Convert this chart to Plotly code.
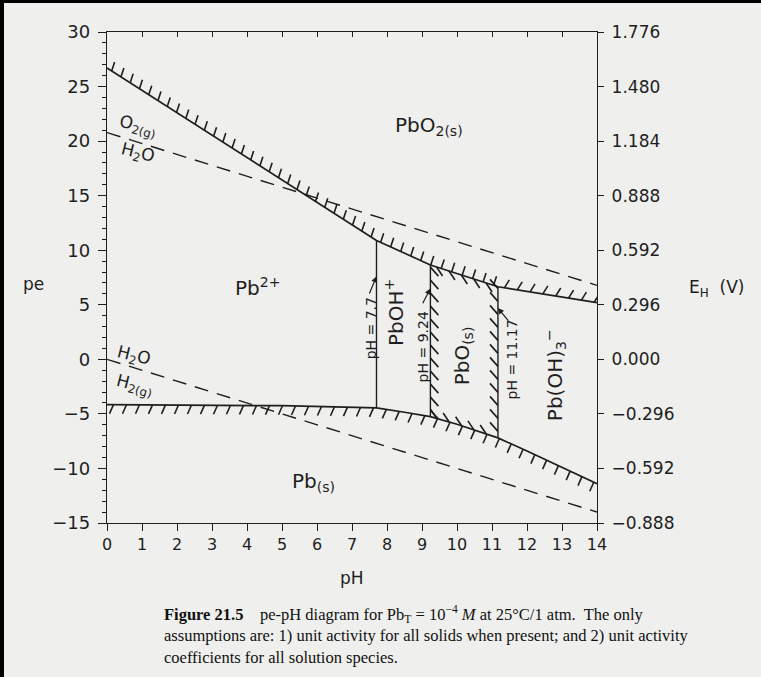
import numpy as np
import plotly.graph_objects as go

# ---------------- data ----------------
ph_upper = [0, 7.7, 9.24, 11.17, 14]
pe_upper = [26.7, 10.9, 8.65, 6.65, 5.2]

ph_lower = [0, 3, 5, 6.5, 7.7, 8.5, 9.24, 10, 11.17, 12, 13, 14]
pe_lower = [-4.15, -4.2, -4.25, -4.35, -4.45, -4.85, -5.25, -5.95, -7.2, -8.4, -9.9, -11.4]

ph_water = [0, 14]
pe_o2_h2o = [20.78, 6.78]
pe_h2o_h2 = [0.0, -14.0]

ph_bounds = [7.7, 9.24, 11.17]
bound_labels = ["pH = 7.7", "pH = 9.24", "pH = 11.17"]

x_ticks = list(range(0, 15))
pe_ticks = [30, 25, 20, 15, 10, 5, 0, -5, -10, -15]
eh_labels = ["1.776", "1.480", "1.184", "0.888", "0.592", "0.296",
             "0.000", "\u22120.296", "\u22120.592", "\u22120.888"]

X_RANGE = [0, 14]
Y_RANGE = [-15, 30]

# ---------------- geometry helpers ----------------
W, H = 761, 677
ML, MR, MT, MB = 107, 164, 32, 154
PW, PH = W - ML - MR, H - MT - MB
PX_X = PW / (X_RANGE[1] - X_RANGE[0])
PX_Y = PH / (Y_RANGE[1] - Y_RANGE[0])

INK = "#1e1e1e"
BG = "#efefed"


def px2paper_x(px):
    return (px - ML) / PW


def px2paper_y(py):
    return (MT + PH - py) / PH


def upper(x):
    return np.interp(x, ph_upper, pe_upper)


def lower(x):
    return np.interp(x, ph_lower, pe_lower)


def hatch(xd, yd, dxp, dyp, spacing):
    """hatch strokes along a dense data polyline; offsets in screen pixels"""
    xd = np.asarray(xd, float)
    yd = np.asarray(yd, float)
    seg = np.hypot(np.diff(xd) * PX_X, np.diff(yd) * PX_Y)
    cum = np.concatenate([[0], np.cumsum(seg)])
    pos = np.arange(spacing * 0.5, cum[-1], spacing)
    hx, hy = [], []
    for s in pos:
        x = np.interp(s, cum, xd)
        y = np.interp(s, cum, yd)
        hx += [x, x + dxp / PX_X, None]
        hy += [y, y - dyp / PX_Y, None]
    return hx, hy


def along(f, a, b):
    xx = np.linspace(a, b, 300)
    return xx, f(xx)


def vertical(xv):
    yy = np.linspace(lower(xv), upper(xv), 300)
    return np.full_like(yy, xv), yy


hatch_sets = [
    hatch(*along(upper, 0, ph_bounds[2]), 3, -9, 11),
    hatch(*along(upper, ph_bounds[2], 14), 5, -8, 13),
    hatch(*along(lower, 0, 14), -4, 9, 13),
    hatch(*vertical(ph_bounds[1]), 8, 9, 13),
    hatch(*vertical(ph_bounds[2]), -8, -9, 13),
    hatch(*along(upper, ph_bounds[1], ph_bounds[2]), 6, 9, 13),
    hatch(*along(lower, ph_bounds[1], ph_bounds[2]), -6, -9, 13),
]

fig = go.Figure()

# invisible traces to anchor the secondary (top / right) axes
fig.add_trace(go.Scatter(x=X_RANGE, y=Y_RANGE, xaxis="x2", yaxis="y",
                         mode="lines", line=dict(color="rgba(0,0,0,0)"),
                         hoverinfo="skip", showlegend=False))
fig.add_trace(go.Scatter(x=X_RANGE, y=Y_RANGE, xaxis="x", yaxis="y2",
                         mode="lines", line=dict(color="rgba(0,0,0,0)"),
                         hoverinfo="skip", showlegend=False))

# water stability lines (dashed)
for pe_vals in (pe_o2_h2o, pe_h2o_h2):
    fig.add_trace(go.Scatter(x=ph_water, y=pe_vals, mode="lines",
                             line=dict(color=INK, width=1.4, dash="14px,9px"),
                             hoverinfo="skip", showlegend=False))

# hatching
for hx, hy in hatch_sets:
    fig.add_trace(go.Scatter(x=hx, y=hy, mode="lines",
                             line=dict(color=INK, width=1.6),
                             hoverinfo="skip", showlegend=False))

# boundaries
fig.add_trace(go.Scatter(x=ph_upper, y=pe_upper, mode="lines",
                         line=dict(color=INK, width=1.7),
                         hoverinfo="skip", showlegend=False))
fig.add_trace(go.Scatter(x=ph_lower, y=pe_lower, mode="lines",
                         line=dict(color=INK, width=1.7),
                         hoverinfo="skip", showlegend=False))
for xb in ph_bounds:
    fig.add_trace(go.Scatter(x=[xb, xb], y=[float(lower(xb)), float(upper(xb))],
                             mode="lines", line=dict(color=INK, width=1.4),
                             hoverinfo="skip", showlegend=False))

FONT = "DejaVu Sans"

# species / region labels
species = [
    ("O<sub>2(g)</sub>", 0.88, 21.3, 14, 17),
    ("H<sub>2</sub>O", 0.88, 18.9, 14, 17),
    ("H<sub>2</sub>O", 0.78, 0.3, 14, 17),
    ("H<sub>2(g)</sub>", 0.78, -2.4, 14, 17),
    ("Pb<sup>2+</sup>", 4.3, 6.6, 0, 20),
    ("PbO<sub>2(s)</sub>", 9.2, 21.4, 0, 20),
    ("PbOH<sup>+</sup>", 8.22, 4.3, -90, 20),
    ("PbO<sub>(s)</sub>", 10.18, 0.3, -90, 20),
    ("Pb(OH)<sub>3</sub><sup>\u2212</sup>", 12.8, -1.45, -90, 20),
    ("Pb<sub>(s)</sub>", 5.9, -11.2, 0, 20),
]
for txt, x, y, ang, size in species:
    fig.add_annotation(x=x, y=y, xref="x", yref="y", text=txt, showarrow=False,
                       textangle=ang, font=dict(family=FONT, size=size, color=INK))

# boundary pH labels (rotated) with arrows
lab_pos = [(7.53, 2.8), (9.03, 1.1), (11.56, -0.05)]
arrow_heads = [(7.7, 7.6), (9.24, 6.5), (11.17, 4.7)]
arrow_tails = [(7.48, 5.9), (9.0, 5.0), (11.5, 3.4)]
for txt, (lx, ly), (hx_, hy_), (tx, ty) in zip(bound_labels, lab_pos, arrow_heads, arrow_tails):
    fig.add_annotation(x=lx, y=ly, xref="x", yref="y", text=txt, showarrow=False,
                       textangle=-90, font=dict(family=FONT, size=14, color=INK))
    fig.add_annotation(x=hx_, y=hy_, ax=tx, ay=ty, xref="x", yref="y",
                       axref="x", ayref="y", text="", showarrow=True,
                       arrowhead=2, arrowsize=1, arrowwidth=1.2, arrowcolor=INK)

# axis titles
title_font = dict(family=FONT, size=17, color=INK)
fig.add_annotation(x=px2paper_x(33), y=px2paper_y(284), xref="paper", yref="paper",
                   xanchor="center", yanchor="middle",
                   text="pe", showarrow=False, font=title_font)
fig.add_annotation(x=px2paper_x(716), y=px2paper_y(288), xref="paper", yref="paper",
                   xanchor="center", yanchor="middle",
                   text="E<sub>H</sub>  (V)", showarrow=False, font=title_font)
fig.add_annotation(x=px2paper_x(352), y=px2paper_y(578), xref="paper", yref="paper",
                   xanchor="center", yanchor="middle",
                   text="pH", showarrow=False, font=title_font)

# caption
caption = ("<b>Figure 21.5</b>\u00a0\u00a0\u00a0 pe-pH diagram for Pb<sub>T</sub> = 10<sup>\u22124</sup> "
           "<i>M</i> at 25°C/1 atm.\u00a0 The only<br>"
           "assumptions are: 1) unit activity for all solids when present; and 2) unit activity<br>"
           "coefficients for all solution species.")
fig.add_annotation(x=px2paper_x(162), y=px2paper_y(601), xref="paper", yref="paper",
                   xanchor="left", yanchor="top", align="left", text=caption,
                   showarrow=False,
                   font=dict(family="Liberation Serif", size=16.5, color="#111"))

axis_common = dict(showgrid=False, zeroline=False, linecolor=INK, linewidth=1.4,
                   tickcolor=INK, tickwidth=1.3)

fig.update_layout(
    width=W, height=H,
    margin=dict(l=ML, r=MR, t=MT, b=MB),
    paper_bgcolor=BG, plot_bgcolor=BG,
    showlegend=False,
    xaxis=dict(range=X_RANGE, tickvals=x_ticks, ticks="outside", ticklen=7,
               showline=True, tickfont=dict(family=FONT, size=16, color=INK),
               **axis_common),
    xaxis2=dict(range=X_RANGE, overlaying="x", side="top", tickvals=x_ticks,
                ticks="inside", ticklen=5, showticklabels=False, showline=True,
                **axis_common),
    yaxis=dict(range=Y_RANGE, tickvals=pe_ticks, ticks="outside", ticklen=8,
               showline=True, ticklabelstandoff=4,
               tickfont=dict(family=FONT, size=18, color=INK),
               minor=dict(ticks="outside", dtick=1, ticklen=4, tickcolor=INK),
               **axis_common),
    yaxis2=dict(range=Y_RANGE, overlaying="y", side="right", tickvals=pe_ticks,
                ticktext=eh_labels, ticks="outside", ticklen=6, showline=True,
                ticklabelstandoff=4,
                tickfont=dict(family=FONT, size=17, color=INK),
                **axis_common),
)

# page setup: no body margin, and the black left/top edge of the scanned page
post = (
    "document.body.style.margin='0';"
    "document.body.style.background='%s';"
    "['left:0;top:0;width:4px;height:100%%;','left:0;top:0;width:100%%;height:3px;']"
    ".forEach(function(s){var d=document.createElement('div');"
    "d.style.cssText='position:fixed;background:#000;z-index:10;pointer-events:none;'+s;"
    "document.body.appendChild(d);});"
) % BG

fig.write_html("out.html", config={"displayModeBar": False}, post_script=post)
